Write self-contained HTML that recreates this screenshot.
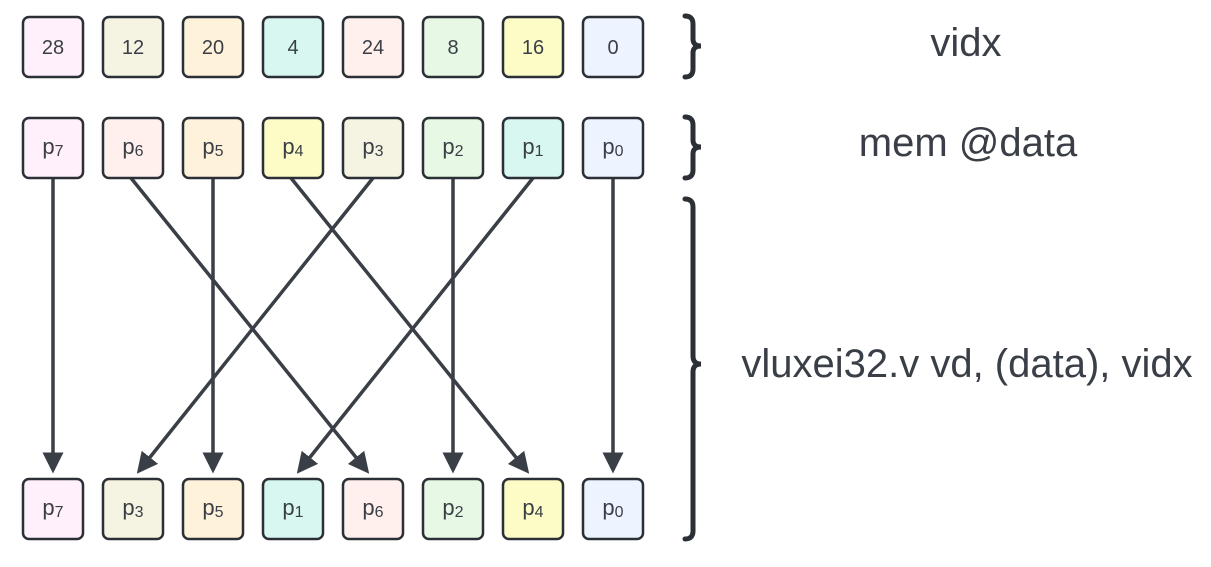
<!DOCTYPE html>
<html><head><meta charset="utf-8"><style>
body{margin:0;background:#fff;width:1211px;height:562px;overflow:hidden}
svg text{font-family:"Liberation Sans",sans-serif;fill:#3a3f47}
</style></head><body>
<svg width="1211" height="562" viewBox="0 0 1211 562" xmlns="http://www.w3.org/2000/svg">
<defs><marker id="a" markerWidth="6" markerHeight="6" refX="5" refY="3" orient="auto" markerUnits="strokeWidth"><path d="M0,0 L6,3 L0,6z" fill="#3a3f47"/></marker></defs>
<g stroke="#3a3f47" stroke-width="3.5" marker-end="url(#a)">
<line x1="53" y1="178" x2="53" y2="470"/>
<line x1="131" y1="178" x2="367" y2="471"/>
<line x1="213" y1="178" x2="213" y2="470"/>
<line x1="291" y1="178" x2="527" y2="471"/>
<line x1="373" y1="178" x2="139" y2="471"/>
<line x1="453" y1="178" x2="453" y2="470"/>
<line x1="533" y1="178" x2="299" y2="471"/>
<line x1="613" y1="178" x2="613" y2="470"/>
</g>
<g stroke="#2b2f36" stroke-width="2.5">
<rect x="23" y="17" width="60" height="60" rx="6" fill="#fff0fb"/>
<rect x="103" y="17" width="60" height="60" rx="6" fill="#f5f3e2"/>
<rect x="183" y="17" width="60" height="60" rx="6" fill="#fff2db"/>
<rect x="263" y="17" width="60" height="60" rx="6" fill="#d7f7f0"/>
<rect x="343" y="17" width="60" height="60" rx="6" fill="#fff0ee"/>
<rect x="423" y="17" width="60" height="60" rx="6" fill="#e7f8e4"/>
<rect x="503" y="17" width="60" height="60" rx="6" fill="#fdfcc6"/>
<rect x="583" y="17" width="60" height="60" rx="6" fill="#edf4ff"/>
<rect x="23" y="118" width="60" height="60" rx="6" fill="#fff0fb"/>
<rect x="103" y="118" width="60" height="60" rx="6" fill="#fff0ee"/>
<rect x="183" y="118" width="60" height="60" rx="6" fill="#fff2db"/>
<rect x="263" y="118" width="60" height="60" rx="6" fill="#fdfcc6"/>
<rect x="343" y="118" width="60" height="60" rx="6" fill="#f5f3e2"/>
<rect x="423" y="118" width="60" height="60" rx="6" fill="#e7f8e4"/>
<rect x="503" y="118" width="60" height="60" rx="6" fill="#d7f7f0"/>
<rect x="583" y="118" width="60" height="60" rx="6" fill="#edf4ff"/>
<rect x="23" y="479" width="60" height="60" rx="6" fill="#fff0fb"/>
<rect x="103" y="479" width="60" height="60" rx="6" fill="#f5f3e2"/>
<rect x="183" y="479" width="60" height="60" rx="6" fill="#fff2db"/>
<rect x="263" y="479" width="60" height="60" rx="6" fill="#d7f7f0"/>
<rect x="343" y="479" width="60" height="60" rx="6" fill="#fff0ee"/>
<rect x="423" y="479" width="60" height="60" rx="6" fill="#e7f8e4"/>
<rect x="503" y="479" width="60" height="60" rx="6" fill="#fdfcc6"/>
<rect x="583" y="479" width="60" height="60" rx="6" fill="#edf4ff"/>
<g fill="none" stroke-width="5" stroke-linecap="round">
<path d="M685 16 Q693 16 693 24 L693 39 Q693 46 701 46 Q693 46 693 53 L693 69 Q693 77 685 77"/>
<path d="M685 117 Q693 117 693 125 L693 140 Q693 147 701 147 Q693 147 693 154 L693 170 Q693 178 685 178"/>
<path d="M685 199 Q693 199 693 207 L693 356 Q693 364 701 364 Q693 364 693 372 L693 531 Q693 539 685 539"/>
</g>
</g>
<g font-size="20" text-anchor="middle">
<text x="53" y="54">28</text><text x="133" y="54">12</text><text x="213" y="54">20</text><text x="293" y="54">4</text><text x="373" y="54">24</text><text x="453" y="54">8</text><text x="533" y="54">16</text><text x="613" y="54">0</text>
</g>
<g font-size="22" text-anchor="middle">
<text x="53" y="154">p<tspan font-size="16" dy="2">7</tspan></text>
<text x="133" y="154">p<tspan font-size="16" dy="2">6</tspan></text>
<text x="213" y="154">p<tspan font-size="16" dy="2">5</tspan></text>
<text x="293" y="154">p<tspan font-size="16" dy="2">4</tspan></text>
<text x="373" y="154">p<tspan font-size="16" dy="2">3</tspan></text>
<text x="453" y="154">p<tspan font-size="16" dy="2">2</tspan></text>
<text x="533" y="154">p<tspan font-size="16" dy="2">1</tspan></text>
<text x="613" y="154">p<tspan font-size="16" dy="2">0</tspan></text>
<text x="53" y="515">p<tspan font-size="16" dy="2">7</tspan></text>
<text x="133" y="515">p<tspan font-size="16" dy="2">3</tspan></text>
<text x="213" y="515">p<tspan font-size="16" dy="2">5</tspan></text>
<text x="293" y="515">p<tspan font-size="16" dy="2">1</tspan></text>
<text x="373" y="515">p<tspan font-size="16" dy="2">6</tspan></text>
<text x="453" y="515">p<tspan font-size="16" dy="2">2</tspan></text>
<text x="533" y="515">p<tspan font-size="16" dy="2">4</tspan></text>
<text x="613" y="515">p<tspan font-size="16" dy="2">0</tspan></text>
</g>
<g font-size="40" text-anchor="middle">
<text x="966" y="56">vidx</text>
<text x="968" y="156">mem @data</text>
<text x="967" y="377">vluxei32.v vd, (data), vidx</text>
</g>
</svg>
</body></html>
